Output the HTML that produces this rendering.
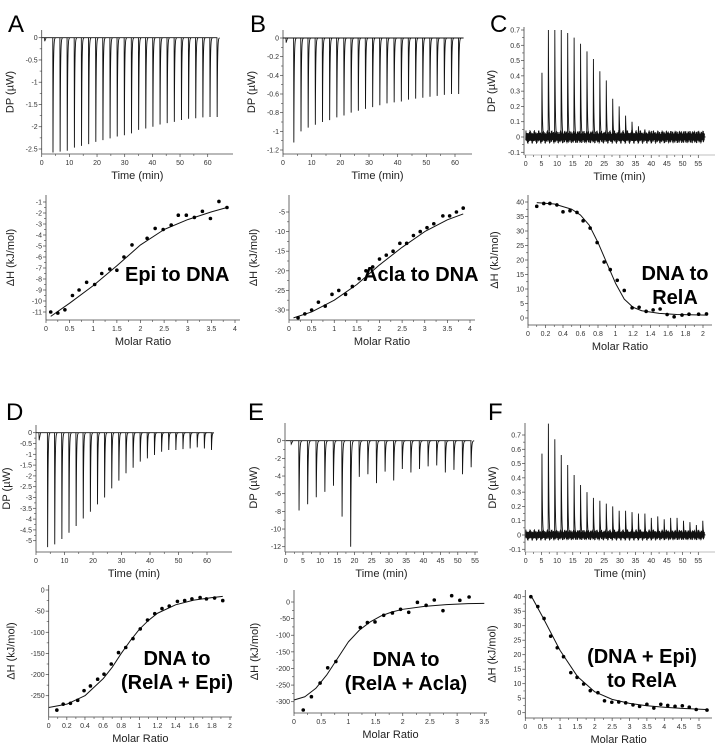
<!DOCTYPE html>
<html><head><meta charset="utf-8">
<style>
html,body{margin:0;padding:0;background:#fff;}
svg{display:block;font-family:"Liberation Sans",Arial,sans-serif;}
</style></head>
<body>
<svg id="fig" width="728" height="747" viewBox="0 0 728 747" xmlns="http://www.w3.org/2000/svg"></svg>
<script>
// ---------- DATA ----------
const aPeaks = [-2.58,-2.56,-2.54,-2.47,-2.43,-2.39,-2.34,-2.30,-2.26,-2.22,-2.19,-2.15,-2.07,-2.04,-2.0,-1.95,-1.92,-1.89,-1.85,-1.82,-1.81,-1.79,-1.78,-1.78];
const bPeaks = [-1.12,-1.0,-0.96,-0.93,-0.9,-0.88,-0.85,-0.83,-0.8,-0.78,-0.76,-0.74,-0.72,-0.7,-0.69,-0.68,-0.66,-0.65,-0.64,-0.63,-0.62,-0.61,-0.6,-0.6];
const cPeaks = [0.42,0.70,0.70,0.70,0.68,0.65,0.61,0.56,0.51,0.43,0.37,0.25,0.20,0.14,0.10,0.07,0.05,0.04,0.03,0.03,0.03,0.02,0.03,0.02,0.03,0.03];
const dPeaks = [-5.3,-5.17,-4.92,-4.63,-4.32,-3.97,-3.66,-3.32,-3.0,-2.58,-2.22,-1.88,-1.62,-1.34,-1.19,-1.03,-0.88,-0.8,-0.8,-0.76,-0.73,-0.68,-0.73,-0.8];
const eTimes = [3.8,6.3,8.8,11.3,13.8,16.3,18.8,21.3,23.8,26.3,28.8,31.3,33.8,36.3,38.8,41.3,43.8,46.3,48.8,51.3,53.8];
const ePeaks = [-7.9,-7.2,-6.4,-5.8,-5.1,-8.6,-12,-4.1,-3.8,-4.8,-3.5,-4.5,-3.2,-3.6,-3.2,-2.9,-2.8,-3.6,-3.3,-3.8,-3.0];
const fPeaks = [0.57,0.78,0.67,0.56,0.49,0.42,0.35,0.30,0.26,0.24,0.22,0.20,0.17,0.17,0.16,0.15,0.15,0.12,0.13,0.11,0.12,0.12,0.10,0.09,0.07,0.10];

const aX = [0.1,0.25,0.4,0.56,0.7,0.86,1.03,1.18,1.35,1.5,1.65,1.82,2.14,2.31,2.48,2.65,2.8,2.97,3.14,3.31,3.48,3.66,3.83];
const aY = [-11,-11.1,-10.8,-9.5,-9.0,-8.3,-8.5,-7.5,-7.1,-7.2,-6.0,-4.9,-4.3,-3.4,-3.5,-3.1,-2.2,-2.2,-2.4,-1.85,-2.5,-0.95,-1.5];
const aFitX = [0.1,0.5,1,1.5,2,2.5,3,3.5,3.83];
const aFitY = [-11.4,-10.2,-8.6,-6.8,-4.9,-3.5,-2.6,-1.9,-1.5];

const bX = [0.2,0.35,0.5,0.65,0.8,0.95,1.1,1.25,1.4,1.55,1.7,1.85,2.0,2.15,2.3,2.45,2.6,2.75,2.9,3.05,3.2,3.4,3.55,3.7,3.85];
const bY = [-32,-31,-30,-28,-29,-26,-25,-26,-24,-22,-20,-19,-17,-16,-15,-13,-13,-11,-10,-9,-8,-6,-6,-5,-4];
const bFitX = [0.1,0.5,1,1.5,2,2.5,3,3.5,3.85];
const bFitY = [-32,-30.5,-27.5,-23.5,-18.5,-14,-10,-7,-5.5];

const cX = [0.1,0.18,0.25,0.33,0.4,0.48,0.56,0.63,0.71,0.79,0.87,0.94,1.02,1.1,1.19,1.27,1.35,1.43,1.51,1.59,1.67,1.76,1.84,1.95,2.04];
const cY = [38.5,39.5,39.5,39,36.6,37,36.4,33.5,31,26,19.3,16.7,13,9.5,3.5,3.7,2.3,2.8,3.1,1.2,0.4,1.0,1.3,1.3,1.4];
const cFitX = [0.1,0.3,0.5,0.6,0.7,0.8,0.9,1.0,1.1,1.2,1.3,1.5,1.7,2.05];
const cFitY = [39.8,39.3,37.5,35.5,32,26,19,12,6.5,3.7,2.5,1.6,1.2,1.0];

const dX = [0.09,0.16,0.24,0.32,0.39,0.46,0.54,0.61,0.69,0.77,0.85,0.93,1.01,1.09,1.17,1.25,1.33,1.42,1.5,1.58,1.67,1.74,1.83,1.92];
const dY = [-284,-270,-268,-261,-238,-227,-211,-199,-175,-148,-136,-115,-92,-71,-56,-44,-38,-27,-25,-21,-18,-21,-19,-25];
const dFitX = [0,0.2,0.4,0.6,0.7,0.8,0.9,1.0,1.1,1.2,1.4,1.6,1.8,1.92];
const dFitY = [-278,-270,-250,-210,-183,-150,-120,-93,-72,-55,-35,-24,-18,-15];

const eX = [0.17,0.32,0.48,0.62,0.77,1.22,1.35,1.49,1.65,1.81,1.96,2.11,2.27,2.43,2.58,2.74,2.9,3.05,3.22];
const eY = [-325,-285,-244,-198,-179,-77,-62,-60,-40,-33,-22,-31,-1,-10,6,-26,19,5,15];
const eFitX = [0,0.2,0.4,0.6,0.8,1.0,1.2,1.4,1.6,1.8,2.0,2.4,2.8,3.2,3.5];
const eFitY = [-295,-285,-260,-220,-170,-120,-85,-60,-42,-30,-22,-13,-8,-5,-4];

const fX = [0.16,0.36,0.54,0.73,0.92,1.1,1.31,1.49,1.68,1.87,2.09,2.28,2.49,2.69,2.89,3.1,3.29,3.5,3.7,3.9,4.1,4.31,4.52,4.72,4.92,5.23];
const fY = [40,36.6,32.5,26.4,22.4,19.3,13.8,12.2,9.9,7.6,6.9,4.1,3.6,3.7,3.4,2.7,2.2,2.9,1.6,2.9,2.5,2.2,2.4,1.9,1.1,0.9];
const fFitX = [0.16,0.5,1,1.5,2,2.5,3,3.5,4,4.5,5.2];
const fFitY = [40.5,33,21.5,12.5,7.2,4.6,3.2,2.4,1.9,1.5,1.1];

// ---------- DRAWING ----------
const NS = "http://www.w3.org/2000/svg";
const svg = document.getElementById('fig');
function mk(tag, attrs, parent){
  const e = document.createElementNS(NS, tag);
  for (const k in attrs) e.setAttribute(k, attrs[k]);
  (parent||svg).appendChild(e);
  return e;
}
function lin(a){ return v => a[1] + (v - a[0]) * (a[3]-a[1]) / (a[2]-a[0]); }
function fmt(v){ return (Math.round(v*100)/100).toString(); }

function axes(g, P){
  const sx = lin(P.xa), sy = lin(P.ya);
  const ax = mk('g', {}, g);
  
  
  const xc = P.xAxisColor || '#444';
  mk('line', {x1:P.yAxisX, y1:P.yTop, x2:P.yAxisX, y2:P.xAxisY, stroke:'#444', 'stroke-width':0.8}, ax);
  mk('line', {x1:P.yAxisX, y1:P.xAxisY, x2:P.xEnd, y2:P.xAxisY, stroke:xc, 'stroke-width':0.8}, ax);
  for (let i=0;i<P.yTicks.length;i++){
    const v = P.yTicks[i], y = sy(v);
    mk('line', {x1:P.yAxisX-3, y1:y, x2:P.yAxisX, y2:y, stroke:'#444','stroke-width':0.7}, ax);
    const t = mk('text', {x:P.yAxisX-4, y:y+2.5, 'font-size':7, 'text-anchor':'end', fill:'#333'}, ax);
    t.textContent = fmt(v);
    if (i < P.yTicks.length-1){
      const ym = sy((v + P.yTicks[i+1])/2);
      mk('line', {x1:P.yAxisX-2, y1:ym, x2:P.yAxisX, y2:ym, stroke:'#444','stroke-width':0.6}, ax);
    }
  }
  for (let i=0;i<P.xTicks.length;i++){
    const v = P.xTicks[i], x = sx(v);
    mk('line', {x1:x, y1:P.xAxisY, x2:x, y2:P.xAxisY+3, stroke:'#444','stroke-width':0.7}, ax);
    const t = mk('text', {x:x, y:P.xAxisY+11, 'font-size':7, 'text-anchor':'middle', fill:'#333'}, ax);
    t.textContent = fmt(v);
    if (i < P.xTicks.length-1){
      const xm = sx((v + P.xTicks[i+1])/2);
      mk('line', {x1:xm, y1:P.xAxisY, x2:xm, y2:P.xAxisY+2, stroke:'#444','stroke-width':0.6}, ax);
    }
  }
  const xt = mk('text', {x:(P.yAxisX+P.xEnd)/2, y:P.xAxisY+25, 'font-size':11, 'text-anchor':'middle', fill:'#222'}, g);
  
  
  xt.textContent = P.xTitle;
  const cy = (P.yTop+P.xAxisY)/2, cx = P.yAxisX - P.yTitleOff;
  const yt = mk('text', {x:cx, y:cy, 'font-size':11, 'text-anchor':'middle', fill:'#222', transform:'rotate(-90 '+cx+' '+cy+')'}, g);
  
  
  yt.textContent = P.yTitle;
  return [sx, sy];
}

function thermo(P, times, peaks, noise, tEnd, smallInj){
  const g = mk('g', {});
  
  
  const [sx, sy] = axes(g, P);
  if (noise){
    let pts = [];
    let k = 0;
    for (let t=0; t<=tEnd; t+=0.09){
      const a = noise * (0.45 + 0.55*Math.abs(Math.sin(k*1.37)*Math.cos(k*0.41)));
      pts.push(sx(t).toFixed(2)+','+sy(k%2?a:-a).toFixed(2));
      k++;
    }
    const n = mk('polyline', {points:pts.join(' '), fill:'none', stroke:'#111', 'stroke-width':0.8}, g);
    
    
  } else {
    const b = mk('line', {x1:sx(0), y1:sy(0), x2:sx(tEnd), y2:sy(0), stroke:'#111','stroke-width':0.9}, g);
    
    
  }
  if (smallInj){
    const s = mk('path', {d:'M'+sx(smallInj[0])+','+sy(0)+' L'+sx(smallInj[0]+0.1)+','+sy(smallInj[1])+' L'+sx(smallInj[0]+0.6)+','+sy(0), fill:'none', stroke:'#111','stroke-width':0.8}, g);
    
    
  }
  for (let i=0;i<peaks.length;i++){
    const t = times[i], v = peaks[i];
    let d = 'M'+sx(t).toFixed(2)+','+sy(0).toFixed(2)+' L'+sx(t+0.08).toFixed(2)+','+sy(v).toFixed(2);
    for (let s=0.04; s<=0.9; s+=0.04){
      d += ' L'+sx(t+0.08+s).toFixed(2)+','+sy(v*Math.exp(-s/0.14)).toFixed(2);
    }
    const p = mk('path', {d:d, fill:'none', stroke:'#111', 'stroke-width':0.9}, g);
    
    
  }
}

function iso(P, xs, ys, fx, fy, lines, lx, ly, anchor){
  const g = mk('g', {});
  
  
  const [sx, sy] = axes(g, P);
  const fit = mk('polyline', {points: fx.map((x,i)=>sx(x).toFixed(2)+','+sy(fy[i]).toFixed(2)).join(' '), fill:'none', stroke:'#111', 'stroke-width':1, 'stroke-linejoin':'round'}, g);
  
  
  for (let i=0;i<xs.length;i++){
    const c = mk('circle', {cx:sx(xs[i]).toFixed(2), cy:sy(ys[i]).toFixed(2), r:1.8, fill:'#000'}, g);
    
    
  }
  for (let i=0;i<lines.length;i++){
    const t = mk('text', {x:lx, y:ly + i*24, 'font-size':20, 'font-weight':'bold', 'text-anchor':anchor, fill:'#000'}, g);
    
    
    t.textContent = lines[i];
  }
}

function seq(a, step, n){ const r=[]; for(let i=0;i<n;i++) r.push(+(a+step*i).toFixed(3)); return r; }
function range(a,b,s){ const r=[]; const n=Math.round((b-a)/s); for(let i=0;i<=n;i++) r.push(+(a+s*i).toFixed(3)); return r; }

const DP = 'DP (\u00B5W)', DH = '\u0394H (kJ/mol)', TM = 'Time (min)', MR = 'Molar Ratio';

[['A',8,32],['B',250,32],['C',490,32],['D',6,420],['E',248,420],['F',488,420]].forEach(l=>{
  const t = mk('text', {x:l[1], y:l[2], 'font-size':24, fill:'#000'});
  
  
  t.textContent = l[0];
});

thermo({name:'panel-a-thermogram', xa:[0,41.7,60,207.7], ya:[0,37.7,-2.5,149], yAxisX:41.7, yTop:30, xAxisY:154, xEnd:233,
  yTicks:range(-2.5,0,0.5).reverse(), xTicks:range(0,60,10), xTitle:TM, yTitle:DP, yTitleOff:28},
  seq(4.0,2.58,24), aPeaks, 0, 63.5, [1,-0.08]);
thermo({name:'panel-b-thermogram', xa:[0,283,60,455], ya:[0,38,-1.2,150], yAxisX:283, yTop:30, xAxisY:154, xEnd:472,
  yTicks:range(-1.2,0,0.2).reverse(), xTicks:range(0,60,10), xTitle:TM, yTitle:DP, yTitleOff:28},
  seq(3.7,2.5,24), bPeaks, 0, 63, [1,-0.05]);
thermo({name:'panel-c-thermogram', xa:[0,525.7,55,698.3], ya:[0,137,0.7,30], yAxisX:524, yTop:27, xAxisY:155, xEnd:715, xAxisColor:'#aaa',
  yTicks:range(-0.1,0.7,0.1), xTicks:range(0,55,5), xTitle:TM, yTitle:DP, yTitleOff:29},
  seq(5.1,2.05,26), cPeaks, 0.045, 57, null);

iso({name:'panel-a-isotherm', xa:[0,46,4,235], ya:[-1,202,-11,312], yAxisX:46, yTop:195, xAxisY:320, xEnd:240,
  yTicks:range(-11,-1,1).reverse(), xTicks:range(0,4,0.5), xTitle:MR, yTitle:DH, yTitleOff:32},
  aX, aY, aFitX, aFitY, ['Epi to DNA'], 125, 281, 'start');
iso({name:'panel-b-isotherm', xa:[0,289,4,470], ya:[-5,212,-30,310], yAxisX:289, yTop:195, xAxisY:320, xEnd:475,
  yTicks:range(-30,-5,5).reverse(), xTicks:range(0,4,0.5), xTitle:MR, yTitle:DH, yTitleOff:32},
  bX, bY, bFitX, bFitY, ['Acla to DNA'], 363, 281, 'start');
iso({name:'panel-c-isotherm', xa:[0,528,2,703], ya:[40,202,0,318], yAxisX:528, yTop:195, xAxisY:325, xEnd:712,
  yTicks:range(0,40,5), xTicks:range(0,2,0.2), xTitle:MR, yTitle:DH, yTitleOff:30},
  cX, cY, cFitX, cFitY, ['DNA to','RelA'], 675, 280, 'middle');

thermo({name:'panel-d-thermogram', xa:[0,36,60,207], ya:[0,432.7,-5,540.7], yAxisX:36, yTop:425, xAxisY:552, xEnd:232,
  yTicks:range(-5,0,0.5).reverse(), xTicks:range(0,60,10), xTitle:TM, yTitle:DP, yTitleOff:26},
  seq(4.0,2.5,24), dPeaks, 0, 62, [1,-0.35]);
thermo({name:'panel-e-thermogram', xa:[0,285.7,55,475], ya:[0,440.7,-12,546.7], yAxisX:285, yTop:423, xAxisY:552, xEnd:478,
  yTicks:range(-12,0,2).reverse(), xTicks:range(0,55,5), xTitle:TM, yTitle:DP, yTitleOff:28},
  eTimes, ePeaks, 0, 54, [1.5,-0.4]);
thermo({name:'panel-f-thermogram', xa:[0,525.7,55,698.3], ya:[0,535,0.7,435], yAxisX:525, yTop:423, xAxisY:552, xEnd:715, xAxisColor:'#aaa',
  yTicks:range(-0.1,0.7,0.1), xTicks:range(0,55,5), xTitle:TM, yTitle:DP, yTitleOff:29},
  seq(5.1,2.05,26), fPeaks, 0.04, 57, null);

iso({name:'panel-d-isotherm', xa:[0,48.7,2,230], ya:[0,590,-250,695.7], yAxisX:48.7, yTop:585, xAxisY:717, xEnd:232,
  yTicks:range(-250,0,50).reverse(), xTicks:range(0,2,0.2), xTitle:MR, yTitle:DH, yTitleOff:34},
  dX, dY, dFitX, dFitY, ['DNA to','(RelA + Epi)'], 177, 665, 'middle');
iso({name:'panel-e-isotherm', xa:[0,294,3.5,484.3], ya:[0,602,-300,701.7], yAxisX:294, yTop:590, xAxisY:713, xEnd:487,
  yTicks:range(-300,0,50).reverse(), xTicks:range(0,3.5,0.5), xTitle:MR, yTitle:DH, yTitleOff:36},
  eX, eY, eFitX, eFitY, ['DNA to','(RelA + Acla)'], 406, 666, 'middle');
iso({name:'panel-f-isotherm', xa:[0,525.3,5,699], ya:[40,596.7,0,712.7], yAxisX:525.3, yTop:590, xAxisY:718, xEnd:712,
  yTicks:range(0,40,5), xTicks:range(0,5,0.5), xTitle:MR, yTitle:DH, yTitleOff:30},
  fX, fY, fFitX, fFitY, ['(DNA + Epi)','to RelA'], 642, 663, 'middle');
</script>
</body></html>
